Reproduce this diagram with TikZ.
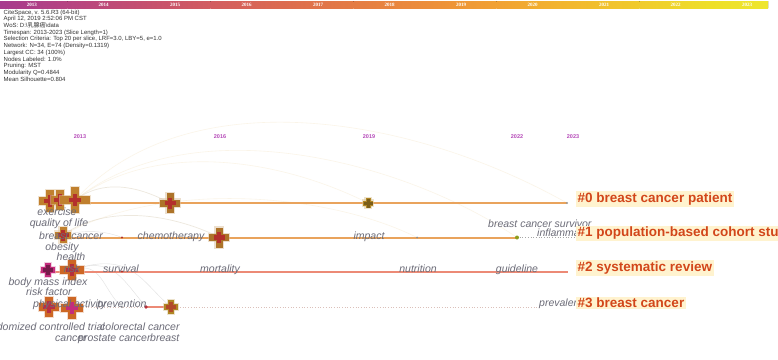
\documentclass[tikz,border=0pt]{standalone}
\usepackage{fontspec}
\setmainfont{Liberation Sans}
\newfontfamily\cjk{Noto Sans CJK SC}
\newfontfamily\barfont{Liberation Serif}
\usetikzlibrary{calc}
\definecolor{c13}{HTML}{A63A8E}
\definecolor{c14}{HTML}{B64482}
\definecolor{c15}{HTML}{C44E70}
\definecolor{c16}{HTML}{D25C60}
\definecolor{c17}{HTML}{DC6B50}
\definecolor{c18}{HTML}{E47C44}
\definecolor{c19}{HTML}{EC8D3A}
\definecolor{c20}{HTML}{F1A133}
\definecolor{c21}{HTML}{F2B72E}
\definecolor{c22}{HTML}{F0CB2C}
\definecolor{c23}{HTML}{EEDF28}
\definecolor{c24}{HTML}{EEE830}
\definecolor{labgray}{HTML}{6C6C78}
\definecolor{yrpurple}{HTML}{B548B8}
\definecolor{clred}{HTML}{D2461A}
\definecolor{clbg}{HTML}{FFF3CF}
\definecolor{lineor}{HTML}{E9A35C}
\definecolor{linesal}{HTML}{EC8A76}
\definecolor{brownx}{HTML}{C0802E}
\definecolor{redx}{HTML}{B3302C}
\definecolor{olivex}{HTML}{B08624}
\definecolor{magx}{HTML}{C42C7C}
\definecolor{arcc}{HTML}{EFD7A6}
\newcommand\Xnode[8]{%
  \coordinate (#1) at (#2,#3);
  \fill[#7!45!white,opacity=.5] ($(#1)+(-#4-1.3,-#6-1.3)$) rectangle ($(#1)+(#4+1.3,#6+1.3)$);
  \fill[#7!45!white,opacity=.5] ($(#1)+(-#6-1.3,-#5-1.3)$) rectangle ($(#1)+(#6+1.3,#5+1.3)$);
  \fill[#7] ($(#1)+(-#4,-#6)$) rectangle ($(#1)+(#4,#6)$);
  \fill[#7] ($(#1)+(-#6,-#5)$) rectangle ($(#1)+(#6,#5)$);
  \fill[#8] ($(#1)+(-#6-2,-0.6*#6)$) rectangle ($(#1)+(#6+2,0.6*#6)$);
  \fill[#8] ($(#1)+(-0.6*#6,-#6-2)$) rectangle ($(#1)+(0.6*#6,#6+2)$);
}
\begin{document}
\begin{tikzpicture}[x=1pt,y=-1pt,
  lab/.style={font=\fontsize{10.5}{11}\selectfont\itshape, text=labgray, inner sep=0pt, anchor=base},
  clab/.style={font=\fontsize{13.5}{14}\selectfont\bfseries, text=clred, fill=clbg, inner sep=1.5pt, anchor=west},
  yr/.style={font=\fontsize{5.5}{6}\selectfont\bfseries, text=yrpurple, inner sep=0pt},
  baryr/.style={font=\barfont\fontsize{5}{5}\selectfont\bfseries, text=white, inner sep=0pt},
  info/.style={font=\fontsize{6}{6.7}\selectfont, text=black!80, inner sep=0pt, align=left, anchor=north west},
  arc/.style={draw=arcc!80!black!60, line width=0.7pt, opacity=.45},
  farc/.style={draw=arcc, line width=0.6pt, opacity=.25},
  garc/.style={draw=black!25, line width=0.4pt, opacity=.45},
  cline/.style={line width=2pt},
  dline/.style={line width=0.7pt, dotted}
]
\useasboundingbox (0,0) rectangle (778,359);
\clip (0,0) rectangle (778,359);
\fill[white] (0,0) rectangle (778,359);

% colour bar
\begin{scope}
\clip (0,0) rectangle (768,9);
\foreach \i/\ca/\cb/\yy in {0/c13/c14/2013,1/c14/c15/2014,2/c15/c16/2015,3/c16/c17/2016,4/c17/c18/2017,5/c18/c19/2018,6/c19/c20/2019,7/c20/c21/2020,8/c21/c22/2021,9/c22/c23/2022,10/c23/c24/2023}{
  \fill[left color=\ca, right color=\cb] ({-4+71.5*\i},1) rectangle ({-4+71.5*(\i+1)},8);
  \node[baryr] (bar\yy) at ({32+71.5*\i},4.6) {\yy};
}
\end{scope}

% info text
\node[info] (info) at (3.5,9.6) {CiteSpace, v. 5.6.R3 (64-bit)\\
April 12, 2019 2:52:06 PM CST\\
WoS: D:\textbackslash{\cjk 乳腺癌}\textbackslash data\\
Timespan: 2013-2023 (Slice Length=1)\\
Selection Criteria: Top 20 per slice, LRF=3.0, LBY=5, e=1.0\\
Network: N=34, E=74 (Density=0.1319)\\
Largest CC: 34 (100\%)\\
Nodes Labeled: 1.0\%\\
Pruning: MST\\
Modularity Q=0.4844\\
Mean Silhouette=0.804};

% year labels
\node[yr] (y2013) at (80,137) {2013};
\node[yr] (y2016) at (220,137) {2016};
\node[yr] (y2019) at (369,137) {2019};
\node[yr] (y2022) at (517,137) {2022};
\node[yr] (y2023) at (573,137) {2023};

% anchor points on lines
\coordinate (l0s) at (42,203);   \coordinate (l0e) at (567,203);
\coordinate (l1s) at (55,237.5); \coordinate (d1c) at (517,237.5); \coordinate (l1e) at (574,237.5);
\coordinate (l2s) at (40,271.5); \coordinate (l2e) at (568,271.5);
\coordinate (l3s) at (45,307);   \coordinate (d3b) at (146,307);  \coordinate (l3e) at (540,307);
\coordinate (d1a) at (122,237.5); \coordinate (d1b) at (417,237.5);
\coordinate (d2a) at (122,271.5); \coordinate (d3a) at (122,307);
\coordinate (c0cA) at (75,200); \coordinate (c1aA) at (63,235); \coordinate (c2bA) at (72,270);

% faint arcs
\path[farc] (c0cA) .. controls +(110,-120) and +(-160,-90) .. (l0e);
\path[farc] (c0cA) .. controls +(120,-95) and +(-110,-75) .. (d1c);
\path[farc] (c0cA) .. controls +(80,-60) and +(-90,-45) .. (368,203);
\path[farc] (c1aA) .. controls +(100,-55) and +(-90,-45) .. (d1b);
\path[arc] (c0cA) .. controls +(30,-22) and +(-30,-16) .. (170,203);
\path[arc] (c1aA) .. controls +(45,-32) and +(-45,-22) .. (219,237);
\path[garc] (c1aA) .. controls +(25,-6) and +(-15,-6) .. (d1a);
\path[garc] (c2bA) .. controls +(40,-14) and +(-25,-30) .. (d3b);
\path[garc] (c2bA) .. controls +(30,-10) and +(-20,-18) .. (d3a);
\path[garc] (c2bA) .. controls +(60,-20) and +(-30,-25) .. (171,307);

% cluster lines
\draw[cline, lineor] (l0s) -- (l0e);
\draw[cline, lineor] (l1s) -- (d1c);
\draw[dline, black!35] (d1c) -- (l1e);
\draw[cline, linesal] (l2s) -- (l2e);
\draw[dline, linesal!70!black!40] (l3s) -- (l3e);
\draw[line width=1.6pt, linesal] (d3b) -- (171,307);

% nodes (crosses)
\Xnode{c0a}{50}{201}{11}{11}{4}{brownx}{redx}
\Xnode{c0b}{60}{200}{9}{10}{4}{brownx}{redx}
\Xnode{c0c}{75}{200}{15}{13}{4}{brownx}{redx}
\Xnode{c0d}{170}{203}{10}{10}{3.5}{brownx!90!black}{redx}
\Xnode{c0e}{368}{203}{5}{5}{2.5}{olivex}{olivex!70!black}
\Xnode{c1a}{63}{235}{8}{8}{3.5}{brownx}{redx}
\Xnode{c1b}{219}{237.5}{10}{10}{3.5}{brownx!90!black}{redx}
\Xnode{c2a}{48}{270}{7}{7}{3}{magx}{magx!60!black}
\Xnode{c2b}{72}{270}{12}{10}{4}{brownx!80!red}{redx!80!magx}
\Xnode{c3a}{49}{307}{10}{10}{4}{brownx!80!red}{redx!70!magx}
\Xnode{c3b}{72}{308}{11}{11}{4}{brownx!80!red}{magx}
\Xnode{c3c}{171}{307}{7}{7}{3}{olivex}{redx!70!olivex}
\fill[redx] (d1a) circle (1.2);
\fill[black!45] (d1b) circle (1);
\fill[olivex!80!green] (d1c) circle (2);
\fill[black!40] (l0e) circle (1.2);
\fill[redx] (d2a) circle (1.2);
\fill[black!40] (d3a) circle (1);
\fill[redx!80!magx] (d3b) circle (1.8);

% term labels
\node[lab] (t1) at (57,215.5) {exercise};
\node[lab] (t2) at (59,226.5) {quality of life};
\node[lab] (t3) at (71,239) {breast cancer};
\node[lab] (t4) at (171,239) {chemotherapy};
\node[lab] (t5) at (369,239) {impact};
\node[lab,anchor=base west] (t6) at (488,227.5) {breast cancer survivor};
\node[lab,anchor=base west] (t7) at (537,236) {inflammation};
\node[lab] (t8) at (62,250.5) {obesity};
\node[lab] (t9) at (71,260.5) {health};
\node[lab] (t10) at (72,272.5) {risk};
\node[lab] (t11) at (121,272.5) {survival};
\node[lab] (t12) at (220,272.5) {mortality};
\node[lab] (t13) at (418,272.5) {nutrition};
\node[lab] (t14) at (517,272.5) {guideline};
\node[lab] (t15) at (48,285) {body mass index};
\node[lab] (t16) at (49,295.5) {risk factor};
\node[lab,anchor=base west] (t17) at (33,307.5) {physical activity};
\node[lab] (t18) at (122,307.5) {prevention};
\node[lab,anchor=base west] (t19) at (539,306) {prevalence};
\node[lab,anchor=base east] (t20) at (105,330) {randomized controlled trial};
\node[lab,anchor=base west] (t21) at (100,330) {colorectal cancer};
\node[lab,anchor=base west] (t22) at (55,341) {cancer};
\node[lab,anchor=base west] (t23) at (78,341) {prostate cancer};
\node[lab,anchor=base west] (t24) at (150,341) {breast};

% cluster labels
\node[clab] (k0) at (576,199) {\#0 breast cancer patient};
\node[clab] (k1) at (576,233.5) {\#1 population-based cohort study};
\node[clab] (k2) at (576,268) {\#2 systematic review};
\node[clab] (k3) at (576,303) {\#3 breast cancer};
\end{tikzpicture}
\end{document}
